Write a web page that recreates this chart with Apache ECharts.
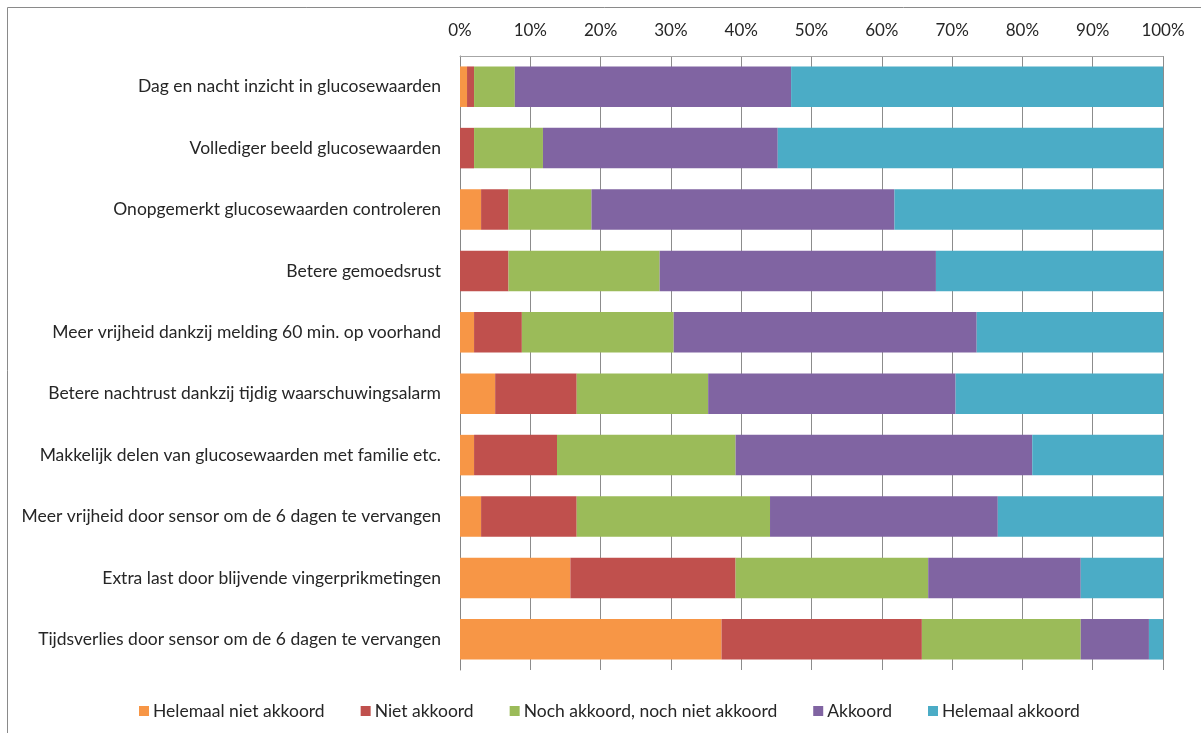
<!DOCTYPE html>
<html>
<head>
<meta charset="utf-8">
<script src="https://cdn.jsdelivr.net/npm/echarts@6/dist/echarts.min.js"></script>
<style>
html,body{margin:0;padding:0;background:#fff;}
#chart{width:1201px;height:733px;}
</style>
</head>
<body>
<div id="chart"></div>
<script>
var categories = [
  'Dag en nacht inzicht in glucosewaarden',
  'Vollediger beeld glucosewaarden',
  'Onopgemerkt glucosewaarden controleren',
  'Betere gemoedsrust',
  'Meer vrijheid dankzij melding 60 min. op voorhand',
  'Betere nachtrust dankzij tijdig waarschuwingsalarm',
  'Makkelijk delen van glucosewaarden met familie etc.',
  'Meer vrijheid door sensor om de 6 dagen te vervangen',
  'Extra last door blijvende vingerprikmetingen',
  'Tijdsverlies door sensor om de 6 dagen te vervangen'
];
var seriesNames = ['Helemaal niet akkoord', 'Niet akkoord', 'Noch akkoord, noch niet akkoord', 'Akkoord', 'Helemaal akkoord'];
var helemaalNietAkkoord = [1.0, 0, 3.0, 0, 2.0, 5.0, 2.0, 3.0, 15.7, 37.2];
var nietAkkoord        = [1.0, 2.0, 3.9, 6.9, 6.8, 11.6, 11.8, 13.6, 23.5, 28.5];
var noch               = [5.8, 9.8, 11.8, 21.5, 21.6, 18.7, 25.4, 27.5, 27.4, 22.6];
var akkoord            = [39.3, 33.4, 43.1, 39.3, 43.1, 35.2, 42.2, 32.4, 21.7, 9.7];
var helemaalAkkoord    = [52.9, 54.8, 38.2, 32.3, 26.5, 29.5, 18.6, 23.5, 11.7, 2.0];
var tickLabels = ['0%','10%','20%','30%','40%','50%','60%','70%','80%','90%','100%'];

var colors = ['#F79646', '#C0504D', '#9BBB59', '#8064A2', '#4BACC6'];
var values = [helemaalNietAkkoord, nietAkkoord, noch, akkoord, helemaalAkkoord];
var FONT = 'Lato';

var chart = echarts.init(document.getElementById('chart'), null, {renderer: 'canvas'});
var series = seriesNames.map(function (name, i) {
  return {
    name: name,
    type: 'bar',
    stack: 'total',
    barCategoryGap: '34%',
    itemStyle: {color: colors[i]},
    data: values[i]
  };
});

chart.setOption({
  animation: false,
  textStyle: {fontFamily: FONT},
  color: colors,
  graphic: [{
    type: 'rect',
    shape: {x: 7.5, y: 7.5, width: 1300, height: 1000},
    style: {fill: 'none', stroke: '#8a8a8a', lineWidth: 1},
    silent: true
  }],
  grid: {left: 460, right: 38, top: 56, bottom: 63, containLabel: false},
  legend: {
    data: seriesNames,
    left: 134,
    top: 697,
    itemWidth: 10,
    itemHeight: 10,
    itemGap: 36,
    icon: 'rect',
    textStyle: {fontFamily: FONT, fontSize: 17.5, color: '#262626', padding: [0, 0, 0, -1]}
  },
  xAxis: {
    type: 'value',
    position: 'top',
    min: 0,
    max: 100,
    interval: 10,
    axisLine: {show: true, lineStyle: {color: '#a6a6a6', width: 1}},
    axisTick: {show: false},
    splitLine: {show: true, lineStyle: {color: '#8c8c8c', width: 1}},
    axisLabel: {
      fontFamily: FONT, fontSize: 17, color: '#262626', margin: 17,
      formatter: function (v) { return tickLabels[Math.round(v / 10)]; }
    }
  },
  yAxis: {
    type: 'category',
    data: categories,
    inverse: true,
    axisLine: {show: true, lineStyle: {color: '#868686', width: 1}},
    axisTick: {show: false},
    axisLabel: {fontFamily: FONT, fontSize: 17.5, color: '#262626', margin: 19}
  },
  series: series
});
</script>
</body>
</html>
